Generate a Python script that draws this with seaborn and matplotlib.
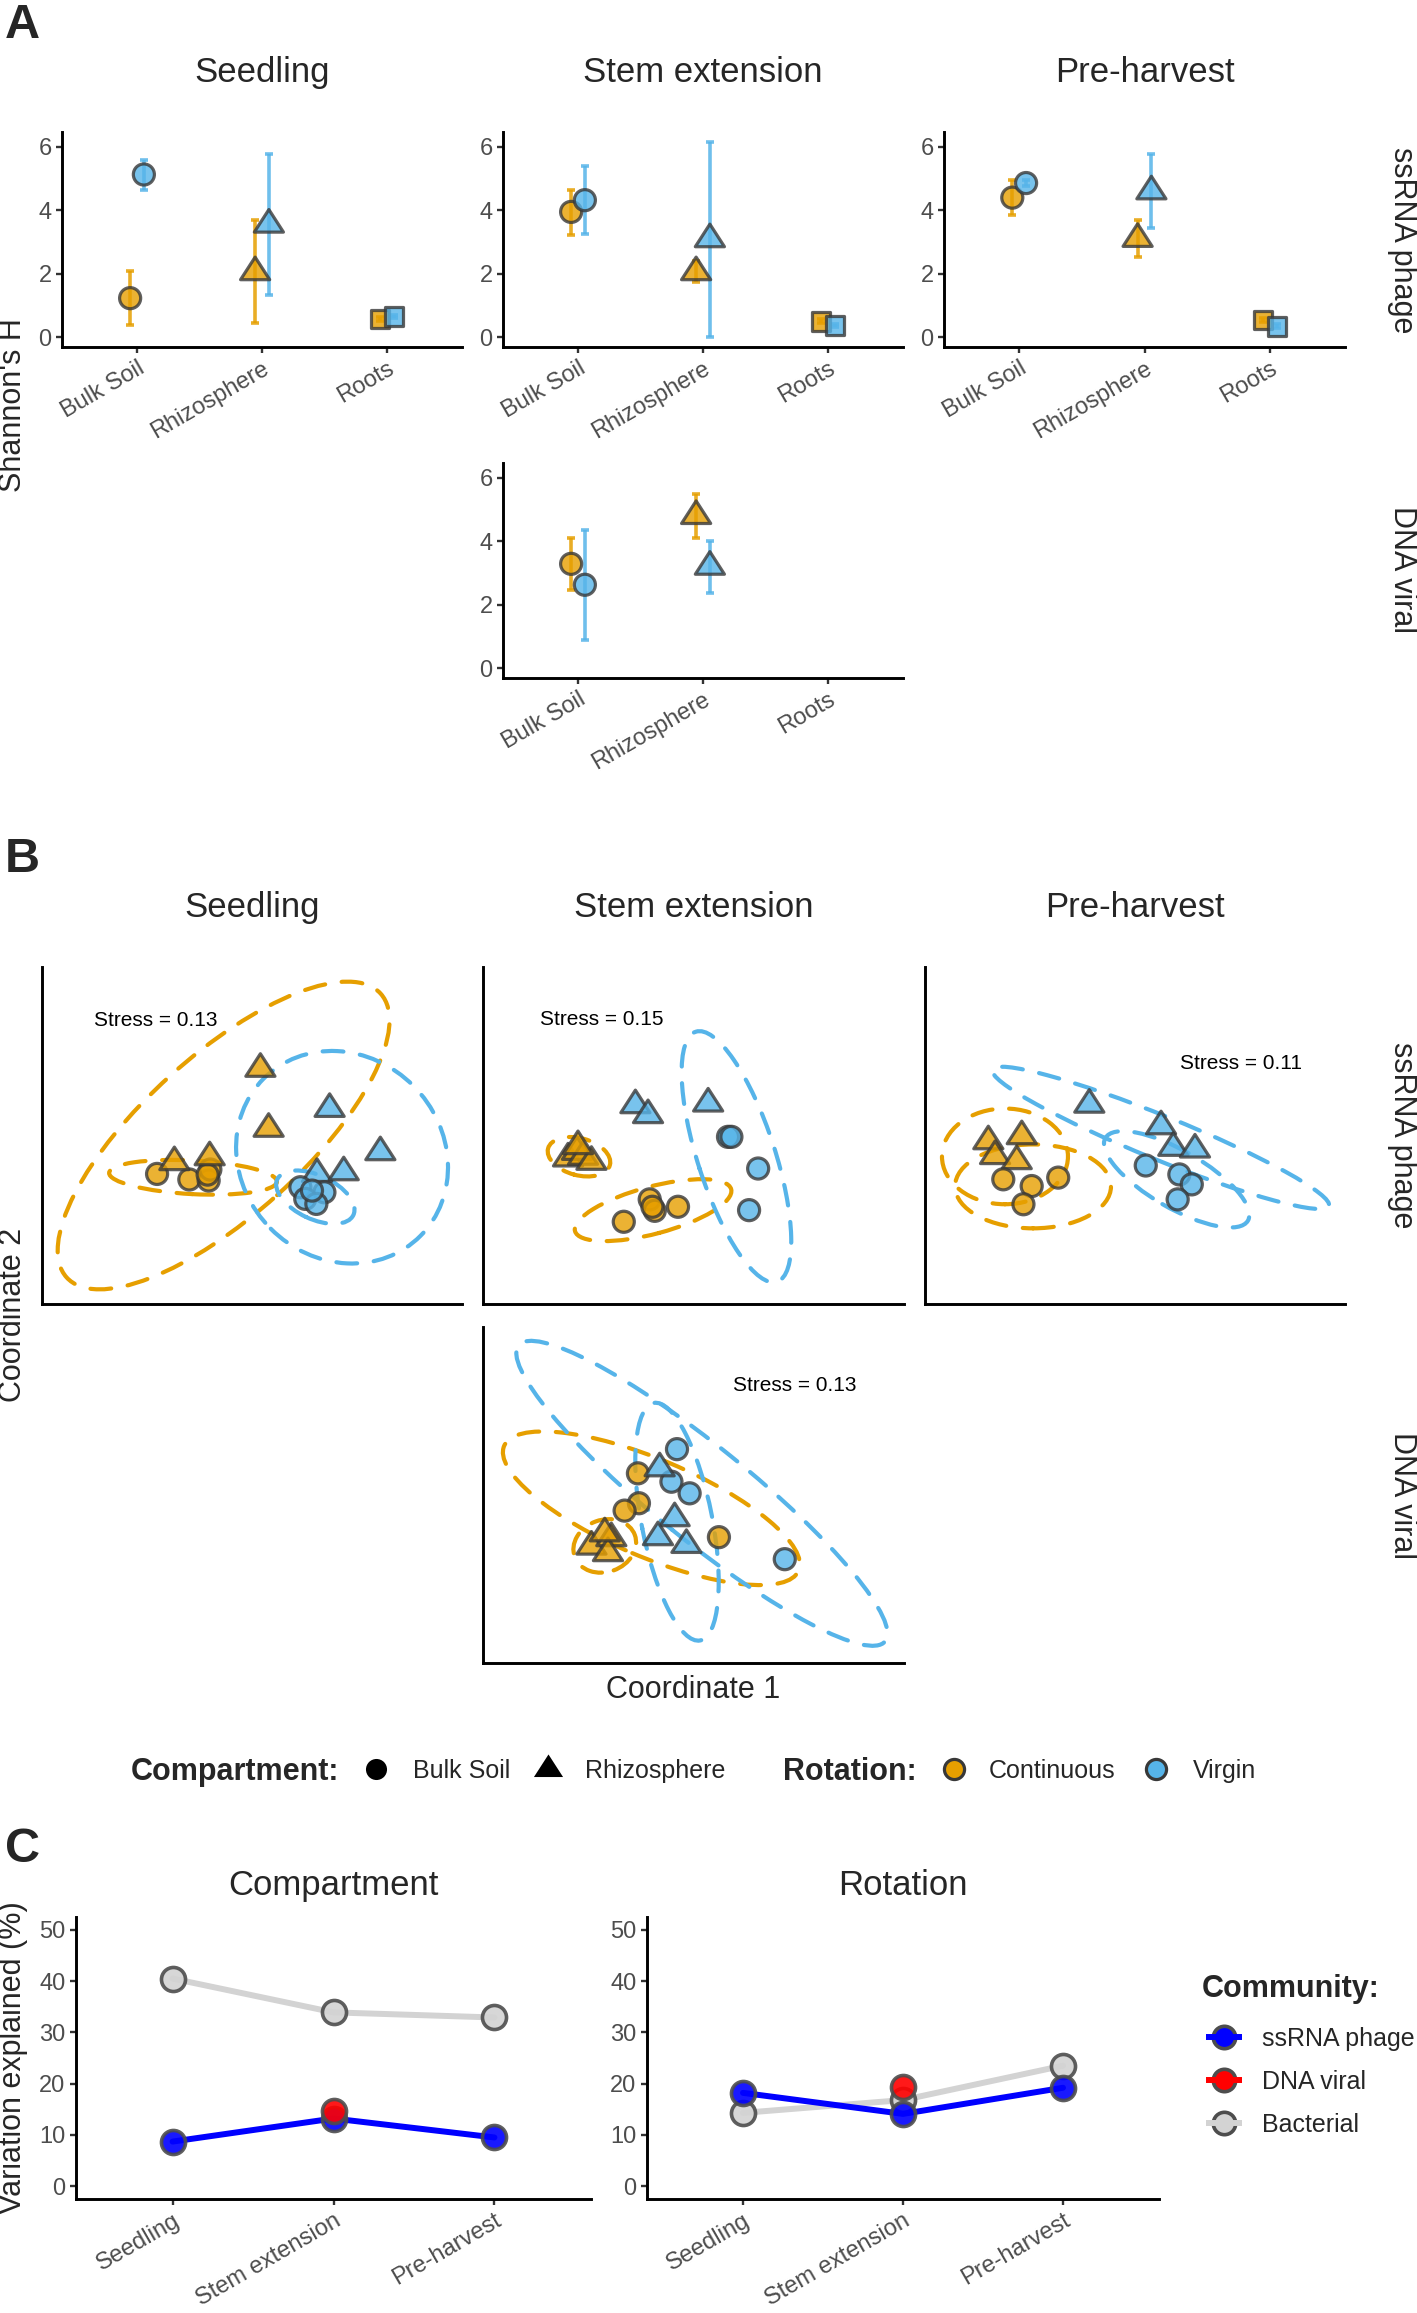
import numpy as np
import pandas as pd
import matplotlib
matplotlib.use("Agg")
import matplotlib.pyplot as plt
from matplotlib.patches import Ellipse
from matplotlib.path import Path
import seaborn as sns

# ======================= DATA =======================
stages = ["Seedling", "Stem extension", "Pre-harvest"]
compartments = ["Bulk Soil", "Rhizosphere", "Roots"]
rotations = ["Continuous", "Virgin"]
communities = ["ssRNA phage", "DNA viral", "Bacterial"]

# ---- Panel A: Shannon's H  (compartment, rotation, mean, lower, upper)
shannon_ssrna_seedling = [
    ("Bulk Soil", "Continuous", 1.23, 0.37, 2.10),
    ("Bulk Soil", "Virgin", 5.13, 4.65, 5.60),
    ("Rhizosphere", "Continuous", 2.05, 0.44, 3.70),
    ("Rhizosphere", "Virgin", 3.55, 1.32, 5.77),
    ("Roots", "Continuous", 0.58, 0.52, 0.64),
    ("Roots", "Virgin", 0.65, 0.59, 0.71),
]
shannon_ssrna_stem = [
    ("Bulk Soil", "Continuous", 3.95, 3.23, 4.65),
    ("Bulk Soil", "Virgin", 4.32, 3.26, 5.40),
    ("Rhizosphere", "Continuous", 2.05, 1.74, 2.40),
    ("Rhizosphere", "Virgin", 3.09, 0.02, 6.16),
    ("Roots", "Continuous", 0.50, 0.44, 0.56),
    ("Roots", "Virgin", 0.37, 0.31, 0.43),
]
shannon_ssrna_preharvest = [
    ("Bulk Soil", "Continuous", 4.40, 3.86, 4.95),
    ("Bulk Soil", "Virgin", 4.86, 4.76, 4.96),
    ("Rhizosphere", "Continuous", 3.10, 2.52, 3.70),
    ("Rhizosphere", "Virgin", 4.60, 3.44, 5.77),
    ("Roots", "Continuous", 0.55, 0.49, 0.61),
    ("Roots", "Virgin", 0.34, 0.28, 0.40),
]
shannon_dna_stem = [
    ("Bulk Soil", "Continuous", 3.29, 2.48, 4.10),
    ("Bulk Soil", "Virgin", 2.63, 0.90, 4.36),
    ("Rhizosphere", "Continuous", 4.80, 4.11, 5.49),
    ("Rhizosphere", "Virgin", 3.20, 2.37, 4.02),
]

# ---- Panel B: NMDS scores (compartment, rotation, NMDS1, NMDS2)
nmds_ssrna_seedling = [
    ("Bulk Soil", "Continuous", -0.565, -0.228), ("Bulk Soil", "Continuous", -0.373, -0.261),
    ("Bulk Soil", "Continuous", -0.258, -0.267), ("Bulk Soil", "Continuous", -0.248, -0.202),
    ("Bulk Soil", "Continuous", -0.264, -0.232),
    ("Rhizosphere", "Continuous", 0.050, 0.396), ("Rhizosphere", "Continuous", 0.099, 0.040),
    ("Rhizosphere", "Continuous", -0.462, -0.158), ("Rhizosphere", "Continuous", -0.252, -0.129),
    ("Rhizosphere", "Virgin", 0.462, 0.158), ("Rhizosphere", "Virgin", 0.764, -0.099),
    ("Rhizosphere", "Virgin", 0.387, -0.228), ("Rhizosphere", "Virgin", 0.546, -0.218),
    ("Bulk Soil", "Virgin", 0.288, -0.307), ("Bulk Soil", "Virgin", 0.431, -0.337),
    ("Bulk Soil", "Virgin", 0.317, -0.376), ("Bulk Soil", "Virgin", 0.383, -0.406),
    ("Bulk Soil", "Virgin", 0.357, -0.327),
]
nmds_ssrna_stem = [
    ("Rhizosphere", "Continuous", -0.745, -0.136), ("Rhizosphere", "Continuous", -0.692, -0.097),
    ("Rhizosphere", "Continuous", -0.656, -0.126), ("Rhizosphere", "Continuous", -0.606, -0.156),
    ("Rhizosphere", "Continuous", -0.686, -0.063),
    ("Bulk Soil", "Continuous", -0.414, -0.512), ("Bulk Soil", "Continuous", -0.260, -0.379),
    ("Bulk Soil", "Continuous", -0.230, -0.447), ("Bulk Soil", "Continuous", -0.092, -0.423),
    ("Bulk Soil", "Continuous", -0.244, -0.423),
    ("Rhizosphere", "Virgin", -0.345, 0.180), ("Rhizosphere", "Virgin", -0.270, 0.121),
    ("Rhizosphere", "Virgin", 0.087, 0.190),
    ("Bulk Soil", "Virgin", 0.205, -0.008), ("Bulk Soil", "Virgin", 0.225, -0.008),
    ("Bulk Soil", "Virgin", 0.384, -0.196), ("Bulk Soil", "Virgin", 0.330, -0.443),
]
nmds_ssrna_preharvest = [
    ("Rhizosphere", "Continuous", -0.873, -0.034), ("Rhizosphere", "Continuous", -0.674, -0.004),
    ("Rhizosphere", "Continuous", -0.833, -0.122), ("Rhizosphere", "Continuous", -0.704, -0.152),
    ("Bulk Soil", "Continuous", -0.784, -0.260), ("Bulk Soil", "Continuous", -0.615, -0.300),
    ("Bulk Soil", "Continuous", -0.457, -0.250), ("Bulk Soil", "Continuous", -0.664, -0.408),
    ("Rhizosphere", "Virgin", -0.272, 0.183), ("Rhizosphere", "Virgin", 0.155, 0.055),
    ("Rhizosphere", "Virgin", 0.228, -0.073), ("Rhizosphere", "Virgin", 0.357, -0.083),
    ("Bulk Soil", "Virgin", 0.064, -0.178), ("Bulk Soil", "Virgin", 0.264, -0.231),
    ("Bulk Soil", "Virgin", 0.338, -0.290), ("Bulk Soil", "Virgin", 0.254, -0.379),
]
nmds_dna_stem = [
    ("Bulk Soil", "Continuous", -0.330, 0.129), ("Bulk Soil", "Continuous", -0.324, -0.049),
    ("Bulk Soil", "Continuous", -0.409, -0.093), ("Bulk Soil", "Continuous", 0.151, -0.251),
    ("Rhizosphere", "Continuous", -0.606, -0.307), ("Rhizosphere", "Continuous", -0.488, -0.257),
    ("Rhizosphere", "Continuous", -0.508, -0.346), ("Rhizosphere", "Continuous", -0.527, -0.228),
    ("Bulk Soil", "Virgin", -0.098, 0.273), ("Bulk Soil", "Virgin", -0.131, 0.079),
    ("Bulk Soil", "Virgin", -0.023, 0.010), ("Bulk Soil", "Virgin", 0.542, -0.382),
    ("Rhizosphere", "Virgin", -0.201, 0.159), ("Rhizosphere", "Virgin", -0.112, -0.138),
    ("Rhizosphere", "Virgin", -0.211, -0.251), ("Rhizosphere", "Virgin", -0.042, -0.297),
]

# ---- Panel B: group ellipses (rotation, compartment, centre x, centre y, semi-major, semi-minor, angle)
ell_ssrna_seedling = [
    ("Continuous", "Rhizosphere", -0.169, 0.000, 1.258, 0.476, 42),
    ("Continuous", "Bulk Soil", -0.351, -0.248, 0.500, 0.100, -3),
    ("Virgin", "Rhizosphere", 0.536, -0.129, 0.660, 0.600, -45),
    ("Virgin", "Bulk Soil", 0.377, -0.366, 0.250, 0.130, -25),
]
ell_ssrna_stem = [
    ("Continuous", "Rhizosphere", -0.680, -0.126, 0.190, 0.110, -15),
    ("Continuous", "Bulk Soil", -0.240, -0.443, 0.480, 0.140, 15),
    ("Virgin", "Bulk Soil", 0.255, -0.126, 0.780, 0.230, -72),
]
ell_ssrna_preharvest = [
    ("Continuous", "Rhizosphere", -0.774, -0.124, 0.375, 0.284, 0),
    ("Continuous", "Bulk Soil", -0.607, -0.302, 0.464, 0.249, 0),
    ("Virgin", "Rhizosphere", 0.153, -0.014, 1.080, 0.130, -22),
    ("Virgin", "Bulk Soil", 0.248, -0.260, 0.490, 0.170, -30),
]
ell_dna_stem = [
    ("Continuous", "Bulk Soil", -0.250, -0.079, 0.950, 0.290, -23),
    ("Continuous", "Rhizosphere", -0.527, -0.303, 0.190, 0.155, 20),
    ("Virgin", "Bulk Soil", 0.050, 0.010, 1.400, 0.280, -39),
    ("Virgin", "Rhizosphere", -0.098, -0.159, 0.720, 0.210, -79),
]
stress_values = [0.13, 0.15, 0.11, 0.13]   # seedling, stem, pre-harvest (ssRNA); stem (DNA)

# ---- Panel C: variation explained (%)
compartment_ssrna = [8.7, 13.2, 9.5]
compartment_dna = [np.nan, 14.7, np.nan]
compartment_bact = [40.5, 33.9, 32.9]
rotation_ssrna = [18.2, 14.1, 19.2]
rotation_dna = [np.nan, 19.4, np.nan]
rotation_bact = [14.3, 16.8, 23.5]

# ======================= STYLE / LAYOUT =======================
sns.set_theme(style="white")
plt.rcParams['font.family'] = ['Liberation Sans', 'DejaVu Sans']

W, H, DPI = 1417, 2313, 100
fig = plt.figure(figsize=(W / DPI, H / DPI), dpi=DPI, facecolor="white")


def add_ax(x0, y0, x1, y1):
    return fig.add_axes([x0 / W, 1 - y1 / H, (x1 - x0) / W, (y1 - y0) / H])


def ftext(x, y, s, **kw):
    return fig.text(x / W, 1 - y / H, s, **kw)


PAL = {"Continuous": "#E69F00", "Virgin": "#56B4E9"}
TRI = Path([(-1.0, -0.517), (1.0, -0.517), (0.0, 1.033), (0.0, 0.0)], closed=True)
MARKERS = {"Bulk Soil": "o", "Rhizosphere": TRI, "Roots": "s"}
SIZES = {"Bulk Soil": 230, "Rhizosphere": 470, "Roots": 175}
EDGE = "#383838"
MK_LW = 2.3
TICK_FS, TITLE_FS, STRIP_FS, AXT_FS = 17, 25, 22, 22
COMM_COL = {"ssRNA phage": "#0000FF", "DNA viral": "#FF0000", "Bacterial": "#D3D3D3"}


def style_axes(ax, ticks=True):
    for s in ["top", "right"]:
        ax.spines[s].set_visible(False)
    for s in ["left", "bottom"]:
        ax.spines[s].set_color("black")
        ax.spines[s].set_linewidth(2.1)
    ax.set_facecolor("none")
    ax.grid(False)
    if ticks:
        ax.tick_params(axis="both", which="both", direction="out", length=4.5, width=1.7,
                       color="#333333", labelcolor="#4D4D4D", labelsize=TICK_FS, pad=3,
                       left=True, bottom=True)
    else:
        ax.set_xticks([])
        ax.set_yticks([])
    ax.set_xlabel("")
    ax.set_ylabel("")


# ---------- Panel A ----------
A_cols = [(62, 462), (503, 903), (944, 1345)]
A_rows = [(132, 347), (463, 678)]
DODGE = {"Continuous": -0.055, "Virgin": 0.055}
panelsA = [(0, 0, shannon_ssrna_seedling), (0, 1, shannon_ssrna_stem),
           (0, 2, shannon_ssrna_preharvest), (1, 1, shannon_dna_stem)]
for r, c, rows in panelsA:
    ax = add_ax(A_cols[c][0], A_rows[r][0], A_cols[c][1], A_rows[r][1])
    df = pd.DataFrame(rows, columns=["Compartment", "Rotation", "H", "lo", "hi"])
    df["x"] = df["Compartment"].map(compartments.index) + df["Rotation"].map(DODGE)
    for rot in rotations:
        d = df[df.Rotation == rot]
        ax.errorbar(d.x, d.H, yerr=[d.H - d.lo, d.hi - d.H], fmt="none", ecolor=PAL[rot],
                    elinewidth=2.6, capsize=2.8, capthick=2.6, alpha=0.85, zorder=2)
    sns.scatterplot(data=df, x="x", y="H", hue="Rotation", style="Compartment",
                    size="Compartment", palette=PAL, markers=MARKERS, sizes=SIZES,
                    edgecolor=EDGE, linewidth=MK_LW, alpha=0.8, legend=False, ax=ax, zorder=3)
    ax.set_xlim(-0.6, 2.6)
    ax.set_ylim(-0.31, 6.47)
    ax.set_xticks(range(3))
    ax.set_xticklabels(compartments, rotation=30, ha="right", va="top", rotation_mode="anchor")
    ax.set_yticks([0, 2, 4, 6])
    style_axes(ax)

for c, st in enumerate(stages):
    ftext((A_cols[c][0] + A_cols[c][1]) / 2, 82, st, ha="center", va="baseline", fontsize=TITLE_FS)
ftext(1402, 240, "ssRNA phage", rotation=-90, ha="center", va="center", fontsize=STRIP_FS)
ftext(1402, 570, "DNA viral", rotation=-90, ha="center", va="center", fontsize=STRIP_FS)
ftext(13, 405, "Shannon's H", rotation=90, ha="center", va="center", fontsize=AXT_FS)
ftext(5, 38, "A", ha="left", va="baseline", fontsize=35, fontweight="bold")

# ---------- Panel B ----------
B_cols = [(42, 462), (483, 904), (925, 1345)]
B_rows = [(967, 1304), (1327, 1663)]
stress_pos = [(-0.575, 0.683), (-0.547, 0.688), (0.629, 0.428), (0.60, 0.653)]
panelsB = [(0, 0, nmds_ssrna_seedling, ell_ssrna_seedling), (0, 1, nmds_ssrna_stem, ell_ssrna_stem),
           (0, 2, nmds_ssrna_preharvest, ell_ssrna_preharvest), (1, 1, nmds_dna_stem, ell_dna_stem)]
for k, (r, c, pts, ells) in enumerate(panelsB):
    ax = add_ax(B_cols[c][0], B_rows[r][0], B_cols[c][1], B_rows[r][1])
    for rot, comp, cx, cy, a, b, ang in ells:
        e = Ellipse((cx, cy), 2 * a, 2 * b, angle=ang, fill=False, edgecolor=PAL[rot],
                    linewidth=3.0, linestyle=(0, (5.0, 4.0)), capstyle="round", zorder=1)
        ax.add_patch(e)
    df = pd.DataFrame(pts, columns=["Compartment", "Rotation", "NMDS1", "NMDS2"])
    sns.scatterplot(data=df, x="NMDS1", y="NMDS2", hue="Rotation", style="Compartment",
                    size="Compartment", palette=PAL, markers=MARKERS, sizes=SIZES,
                    edgecolor=EDGE, linewidth=MK_LW, alpha=0.8, legend=False, ax=ax, zorder=3)
    ax.set_xlim(-1.25, 1.25)
    ax.set_ylim(-1, 1)
    style_axes(ax, ticks=False)
    ax.text(stress_pos[k][0], stress_pos[k][1], f"Stress = {stress_values[k]:.2f}",
            ha="center", va="center", fontsize=15, color="black")

for c, st in enumerate(stages):
    ftext((B_cols[c][0] + B_cols[c][1]) / 2, 917, st, ha="center", va="baseline", fontsize=TITLE_FS)
ftext(1402, 1135, "ssRNA phage", rotation=-90, ha="center", va="center", fontsize=STRIP_FS)
ftext(1402, 1495, "DNA viral", rotation=-90, ha="center", va="center", fontsize=STRIP_FS)
ftext(13, 1315, "Coordinate 2", rotation=90, ha="center", va="center", fontsize=AXT_FS)
ftext(693, 1698, "Coordinate 1", ha="center", va="baseline", fontsize=AXT_FS)
ftext(5, 872, "B", ha="left", va="baseline", fontsize=35, fontweight="bold")

# ---------- Panel C ----------
C_cols = [(76, 591), (647, 1159)]
C_row = (1917, 2199)
panelsC = [("Compartment", compartment_ssrna, compartment_dna, compartment_bact),
           ("Rotation", rotation_ssrna, rotation_dna, rotation_bact)]
xs = np.arange(len(stages))
C_S = 300
for i, (title, ss, dna, bac) in enumerate(panelsC):
    ax = add_ax(C_cols[i][0], C_row[0], C_cols[i][1], C_row[1])
    sns.lineplot(x=xs, y=bac, color=COMM_COL["Bacterial"], linewidth=4.3, ax=ax, zorder=1)
    sns.scatterplot(x=xs, y=bac, color=COMM_COL["Bacterial"], s=C_S, edgecolor="#4D4D4D",
                    linewidth=2.6, alpha=0.9, ax=ax, zorder=2, legend=False)
    sns.lineplot(x=xs, y=ss, color=COMM_COL["ssRNA phage"], linewidth=4.3, ax=ax, zorder=3)
    sns.scatterplot(x=xs, y=ss, color=COMM_COL["ssRNA phage"], s=C_S, edgecolor="#4D4D4D",
                    linewidth=2.6, alpha=0.9, ax=ax, zorder=4, legend=False)
    sns.scatterplot(x=xs, y=dna, color=COMM_COL["DNA viral"], s=C_S, edgecolor="#4D4D4D",
                    linewidth=2.6, alpha=0.9, ax=ax, zorder=5, legend=False)
    ax.set_xlim(-0.6, 2.6)
    ax.set_ylim(-2.5, 52.5)
    ax.set_yticks([0, 10, 20, 30, 40, 50])
    ax.set_xticks(xs)
    ax.set_xticklabels(stages, rotation=30, ha="right", va="top", rotation_mode="anchor")
    style_axes(ax)
    ftext((C_cols[i][0] + C_cols[i][1]) / 2, 1895, title, ha="center", va="baseline", fontsize=TITLE_FS)

ftext(13, 2058, "Variation explained (%)", rotation=90, ha="center", va="center", fontsize=AXT_FS)
ftext(5, 1862, "C", ha="left", va="baseline", fontsize=35, fontweight="bold")

# ---------- Legends (overlay in pixel space) ----------
lax = fig.add_axes([0, 0, 1, 1])
lax.set_xlim(0, W)
lax.set_ylim(H, 0)
lax.axis("off")
lax.set_zorder(10)

ly = 1769
ftext(131, 1780, "Compartment:", ha="left", va="baseline", fontsize=22, fontweight="bold")
lax.scatter([376], [ly], marker="o", s=230, color="black", linewidths=0)
ftext(413, 1778, "Bulk Soil", ha="left", va="baseline", fontsize=18)
lax.scatter([548], [ly], marker=TRI, s=470, color="black", linewidths=0)
ftext(585, 1778, "Rhizosphere", ha="left", va="baseline", fontsize=18)
ftext(783, 1780, "Rotation:", ha="left", va="baseline", fontsize=22, fontweight="bold")
lax.scatter([954], [ly], marker="o", s=210, color=PAL["Continuous"], edgecolors=EDGE, linewidths=2.3)
ftext(989, 1778, "Continuous", ha="left", va="baseline", fontsize=18)
lax.scatter([1156], [ly], marker="o", s=210, color=PAL["Virgin"], edgecolors=EDGE, linewidths=2.3)
ftext(1193, 1778, "Virgin", ha="left", va="baseline", fontsize=18)

ftext(1202, 1997, "Community:", ha="left", va="baseline", fontsize=22, fontweight="bold")
for j, comm in enumerate(communities):
    yy = 2037 + 43 * j
    lax.plot([1206, 1242], [yy, yy], color=COMM_COL[comm], linewidth=4.3, solid_capstyle="butt")
    lax.scatter([1224], [yy], s=260, color=COMM_COL[comm], edgecolors="#4D4D4D", linewidths=2.6)
    ftext(1262, yy + 9, comm, ha="left", va="baseline", fontsize=18)

fig.savefig("out.png", dpi=DPI, facecolor="white")
